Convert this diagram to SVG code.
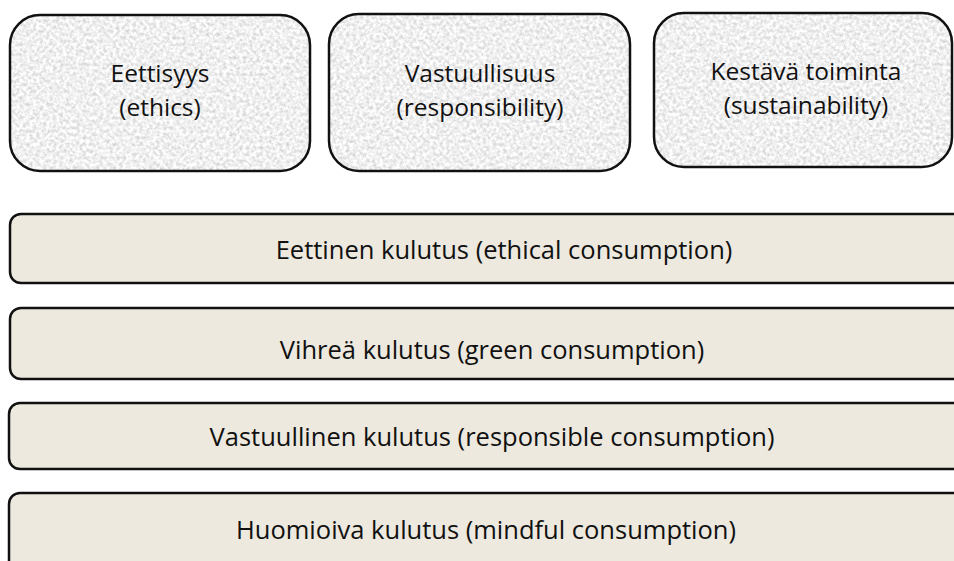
<svg xmlns="http://www.w3.org/2000/svg" width="954" height="561" viewBox="0 0 954 561">
<defs>
<filter id="stone" x="0" y="0" width="100%" height="100%" color-interpolation-filters="sRGB">
<feTurbulence type="fractalNoise" baseFrequency="0.3" numOctaves="3" seed="7" result="n"/>
<feColorMatrix in="n" type="matrix" values="0.34 0 0 0 0.77  0.34 0 0 0 0.77  0.34 0 0 0 0.77  0 0 0 0 1" result="c"/>
<feComposite in="c" in2="SourceGraphic" operator="in"/>
</filter>
<style>
.top{fill:#ececec}
.edge{fill:none;stroke:#111;stroke-width:2.5}
.bar{fill:#ede9df;stroke:#111;stroke-width:2.5}
.t{font-family:"Open Sans","Liberation Sans",sans-serif;font-size:24.5px;fill:#111;text-anchor:middle}
.b{font-size:25.5px}
</style>
</defs>
<rect width="954" height="561" fill="#fff"/>
<g id="ethics">
<rect class="top" x="10" y="15" width="300" height="156" rx="30" filter="url(#stone)"/>
<rect class="edge" x="10" y="15" width="300" height="156" rx="30"/>
<text class="t" x="160" y="82">Eettisyys</text>
<text class="t" x="160" y="116">(ethics)</text>
</g>
<g id="responsibility">
<rect class="top" x="329" y="14" width="301" height="157" rx="30" filter="url(#stone)"/>
<rect class="edge" x="329" y="14" width="301" height="157" rx="30"/>
<text class="t" x="480" y="82">Vastuullisuus</text>
<text class="t" x="480" y="116">(responsibility)</text>
</g>
<g id="sustainability">
<rect class="top" x="654" y="13" width="298" height="154" rx="30" filter="url(#stone)"/>
<rect class="edge" x="654" y="13" width="298" height="154" rx="30"/>
<text class="t" x="806" y="80">Kestävä toiminta</text>
<text class="t" x="806" y="114">(sustainability)</text>
</g>
<g id="ethical-consumption">
<rect class="bar" x="10" y="214" width="960" height="69" rx="11"/>
<text class="t b" x="504" y="259">Eettinen kulutus (ethical consumption)</text>
</g>
<g id="green-consumption">
<rect class="bar" x="10" y="308" width="960" height="71" rx="11"/>
<text class="t b" x="492" y="359">Vihreä kulutus (green consumption)</text>
</g>
<g id="responsible-consumption">
<rect class="bar" x="9" y="403" width="960" height="66" rx="11"/>
<text class="t b" x="492" y="446">Vastuullinen kulutus (responsible consumption)</text>
</g>
<g id="mindful-consumption">
<rect class="bar" x="9" y="493" width="960" height="90" rx="11"/>
<text class="t b" x="486" y="539">Huomioiva kulutus (mindful consumption)</text>
</g>
<g id="connectors"/>
</svg>
